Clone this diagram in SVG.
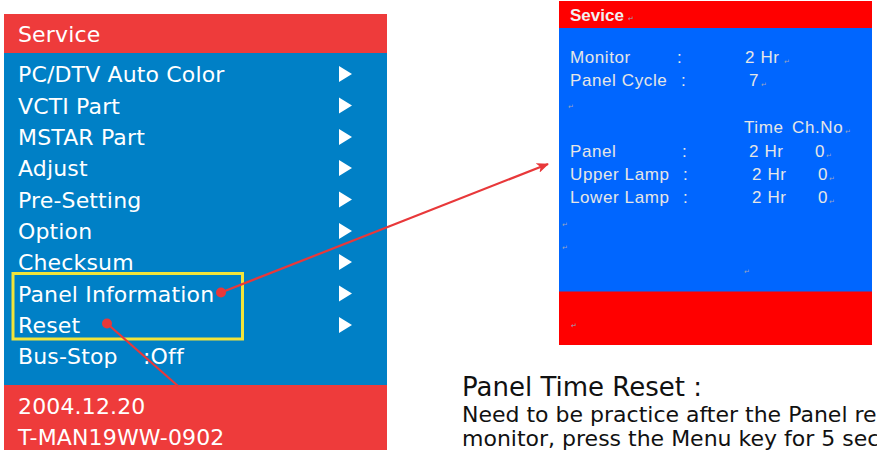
<svg xmlns="http://www.w3.org/2000/svg" width="877" height="450" viewBox="0 0 877 450">
<defs>
<style>
.m{font-family:"DejaVu Sans",Verdana,sans-serif;font-size:22px;fill:#fff;letter-spacing:0.15px}
.r{font-family:"Liberation Sans",Arial,sans-serif;font-size:17px;fill:#e6e6e6;letter-spacing:0.6px}
.rt{font-family:"Liberation Sans",Arial,sans-serif;font-size:7px;fill:#9aa4c0}
.tri{fill:#fff}
.b{font-family:"DejaVu Sans",Verdana,sans-serif;fill:#111}
.con{stroke:#e8383a;stroke-width:2.2;fill:none}
.dot{fill:#e8383a}
</style>
<marker id="ah" viewBox="0 0 12 10" refX="11" refY="5" markerWidth="12" markerHeight="10" markerUnits="userSpaceOnUse" orient="auto">
<path d="M0,0 L12,5 L0,10 L3,5 Z" fill="#e8383a"/>
</marker>
</defs>
<rect width="877" height="450" fill="#fff"/>

<g id="service-menu">
<rect x="4" y="14" width="383" height="40" fill="#ee3b3b"/>
<rect x="4" y="53" width="383" height="333" fill="#0080c6"/>
<rect x="4" y="385" width="383" height="65" fill="#ee3b3b"/>
<text class="m" x="18" y="42">Service</text>
<text class="m" x="18" y="82">PC/DTV Auto Color</text>
<text class="m" x="18" y="113.5">VCTI Part</text>
<text class="m" x="18" y="145">MSTAR Part</text>
<text class="m" x="18" y="176">Adjust</text>
<text class="m" x="18" y="207.5">Pre-Setting</text>
<text class="m" x="18" y="239">Option</text>
<text class="m" x="18" y="270">Checksum</text>
<text class="m" x="18" y="301.5">Panel Information</text>
<text class="m" x="18" y="333">Reset</text>
<text class="m" x="18" y="364">Bus-Stop</text>
<text class="m" x="143" y="364">:Off</text>
<text class="m" x="18" y="414">2004.12.20</text>
<text class="m" x="18" y="445">T-MAN19WW-0902</text>
<path class="tri" d="M339,66 L352,74 L339,82 Z"/>
<path class="tri" d="M339,97.5 L352,105.5 L339,113.5 Z"/>
<path class="tri" d="M339,129 L352,137 L339,145 Z"/>
<path class="tri" d="M339,160 L352,168 L339,176 Z"/>
<path class="tri" d="M339,191.5 L352,199.5 L339,207.5 Z"/>
<path class="tri" d="M339,223 L352,231 L339,239 Z"/>
<path class="tri" d="M339,254 L352,262 L339,270 Z"/>
<path class="tri" d="M339,285.5 L352,293.5 L339,301.5 Z"/>
<path class="tri" d="M339,317 L352,325 L339,333 Z"/>
</g>

<g id="highlight">
<rect x="13" y="273.5" width="229.5" height="65.5" fill="none" stroke="#f2e43a" stroke-width="3"/>
</g>

<g id="panel-info-screen">
<rect x="559" y="1" width="313" height="28" fill="#ff0000"/>
<rect x="559" y="28" width="313" height="264" fill="#0066ff"/>
<rect x="559" y="291.5" width="313" height="53.5" fill="#ff0000"/>
<text x="570" y="21" font-family="Liberation Sans, Arial, sans-serif" font-size="17" font-weight="bold" fill="#f0f0f0">Sevice</text>
<text class="r" x="570" y="63">Monitor</text>
<text class="r" x="677" y="63">:</text>
<text class="r" x="745" y="63">2 Hr</text>
<text class="r" x="570" y="86">Panel Cycle</text>
<text class="r" x="681" y="86">:</text>
<text class="r" x="749" y="86">7</text>
<text class="r" x="744" y="133">Time</text>
<text class="r" x="792" y="133">Ch.No</text>
<text class="r" x="570" y="157">Panel</text>
<text class="r" x="682" y="157">:</text>
<text class="r" x="749" y="157">2 Hr</text>
<text class="r" x="815" y="157">0</text>
<text class="r" x="570" y="180">Upper Lamp</text>
<text class="r" x="683" y="180">:</text>
<text class="r" x="752" y="180">2 Hr</text>
<text class="r" x="818" y="180">0</text>
<text class="r" x="570" y="203">Lower Lamp</text>
<text class="r" x="683" y="203">:</text>
<text class="r" x="752" y="203">2 Hr</text>
<text class="r" x="818" y="203">0</text>
<text class="rt" x="628" y="21">↵</text>
<text class="rt" x="784" y="64">↵</text>
<text class="rt" x="761" y="87">↵</text>
<text class="rt" x="568" y="109">↵</text>
<text class="rt" x="845" y="134">↵</text>
<text class="rt" x="826" y="158">↵</text>
<text class="rt" x="829" y="181">↵</text>
<text class="rt" x="829" y="204">↵</text>
<text class="rt" x="562" y="227">↵</text>
<text class="rt" x="562" y="250">↵</text>
<text class="rt" x="744" y="274">↵</text>
<text class="rt" x="571" y="328">↵</text>
</g>

<g id="note">
<text class="b" x="462" y="396" font-size="26">Panel Time Reset :</text>
<text class="b" x="462" y="422" font-size="22">Need to be practice after the Panel re</text>
<text class="b" x="462" y="446" font-size="22">monitor, press the Menu key for 5 sec</text>
</g>

<g id="connectors">
<line class="con" x1="221" y1="292.5" x2="548" y2="164" marker-end="url(#ah)"/>
<circle class="dot" cx="221" cy="292.5" r="5"/>
<line class="con" x1="107" y1="323.5" x2="178" y2="386"/>
<circle class="dot" cx="107" cy="323.5" r="5"/>
</g>
</svg>
